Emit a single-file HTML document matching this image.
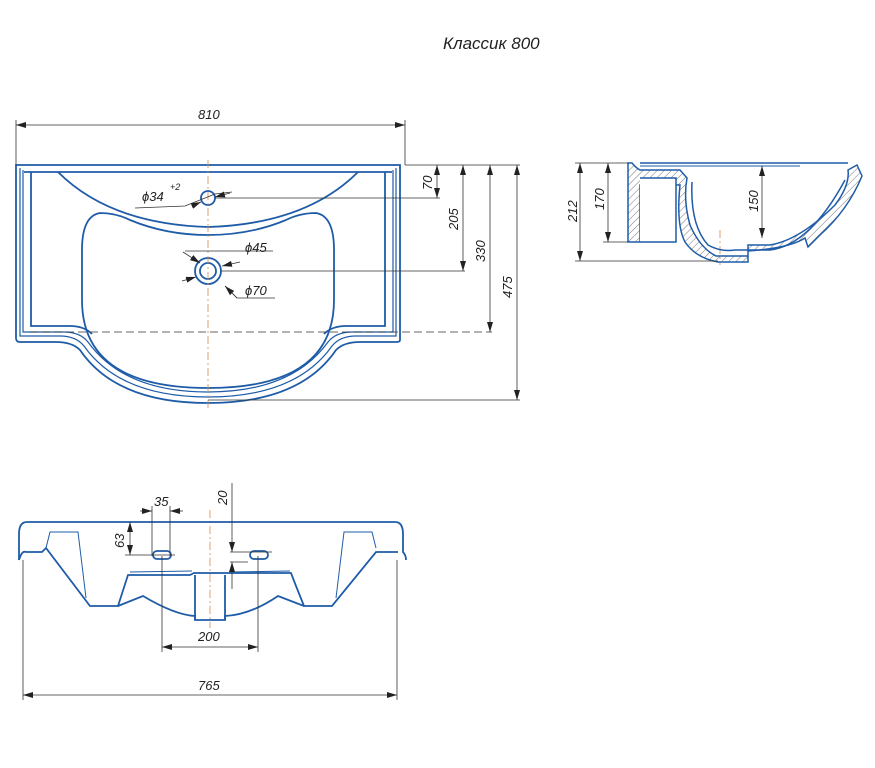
<!DOCTYPE html>
<html><head><meta charset="utf-8"><style>
html,body{margin:0;padding:0;background:#fff;}
svg{display:block}
text{font-family:"Liberation Sans",sans-serif;font-style:italic;font-size:13px;fill:#222}
</style></head><body>
<svg width="875" height="768" viewBox="0 0 875 768" xmlns="http://www.w3.org/2000/svg">
<defs>
<marker id="a" markerWidth="10" markerHeight="6" refX="10" refY="3" orient="auto-start-reverse" markerUnits="userSpaceOnUse"><path d="M0,0 L10,3 L0,6 z" fill="#222"/></marker>
<pattern id="h" width="5" height="5" patternUnits="userSpaceOnUse" patternTransform="rotate(45)"><line x1="0" y1="0" x2="0" y2="5" stroke="#777" stroke-width="1"/></pattern>
</defs>
<text x="443" y="49" style="font-size:17px">Классик 800</text>

<!-- TOP VIEW -->
<g fill="none" stroke="#1f5ca8" stroke-width="1.8">
<path d="M16,165 H400 V340 Q400,342 396,342 H360 Q344,342 336,350 Q300,403 208,403 Q116,403 80,350 Q72,342 56,342 H20 Q16,342 16,338 Z"/>
<path d="M20,168 V336 H60 Q76,336 84,346 Q120,397 208,397 Q296,397 332,346 Q340,336 356,336 H396 V168" stroke-width="1.2"/>
<path d="M23,170 V332 H64 Q80,332 88,342 Q124,392 208,392 Q292,392 328,342 Q336,332 352,332 H393 V170" stroke-width="1.2"/>
<path d="M24,172 H392"/>
<path d="M31,172 V326 H70 Q84,326 92,334"/>
<path d="M385,172 V326 H346 Q332,326 324,334"/>
<path d="M58,172 Q110,224 208,227 Q306,224 358,172"/>
<path d="M100,213 Q82,216 82,250 V300 Q82,388 208,388 Q334,388 334,300 V250 Q334,216 316,213 Q300,213 286,220 Q250,235 208,235 Q166,235 130,220 Q116,213 100,213 Z"/>
<circle cx="208" cy="198" r="7"/>
<circle cx="208" cy="271" r="8"/>
<circle cx="208" cy="271" r="13"/>
</g>
<g stroke="#d08a50" stroke-width="0.8" stroke-dasharray="8,3,2,3" fill="none">
<line x1="208" y1="160" x2="208" y2="408"/>
<line x1="720" y1="230" x2="720" y2="265"/>
<line x1="210" y1="510" x2="210" y2="628"/>
</g>
<g stroke="#333" stroke-width="0.8" fill="none">
<line x1="16" y1="120" x2="16" y2="165"/><line x1="405" y1="120" x2="405" y2="165"/>
<line x1="16" y1="125" x2="405" y2="125" marker-start="url(#a)" marker-end="url(#a)"/>
<line x1="405" y1="165" x2="520" y2="165"/>
<line x1="215" y1="198" x2="440" y2="198"/>
<line x1="221" y1="271" x2="465" y2="271"/>
<line x1="208" y1="400" x2="520" y2="400"/>
<line x1="30" y1="332" x2="492" y2="332" stroke-dasharray="8,4"/>
<line x1="437" y1="165" x2="437" y2="198" marker-start="url(#a)" marker-end="url(#a)"/>
<line x1="463" y1="165" x2="463" y2="271" marker-start="url(#a)" marker-end="url(#a)"/>
<line x1="490" y1="165" x2="490" y2="332" marker-start="url(#a)" marker-end="url(#a)"/>
<line x1="517" y1="165" x2="517" y2="400" marker-start="url(#a)" marker-end="url(#a)"/>
<polyline points="135,208 185,206 215,194 232,192"/>
<line x1="192" y1="206" x2="201" y2="202" marker-end="url(#a)"/>
<line x1="230" y1="193" x2="215" y2="197" marker-end="url(#a)"/>
<line x1="185" y1="251" x2="273" y2="251"/>
<line x1="183" y1="252" x2="200" y2="263" marker-end="url(#a)"/>
<line x1="182" y1="281" x2="196" y2="277" marker-end="url(#a)"/>
<line x1="240" y1="262" x2="222" y2="266" marker-end="url(#a)"/>
<polyline points="275,298 237,298 225,286"/>
<line x1="237" y1="298" x2="225" y2="286" marker-end="url(#a)"/>
</g>
<text x="142" y="201">ϕ34</text><text x="170" y="190" style="font-size:9px">+2</text>
<text x="245" y="252">ϕ45</text>
<text x="245" y="295">ϕ70</text>
<text x="198" y="119">810</text>
<text transform="translate(432,190) rotate(-90)">70</text>
<text transform="translate(458,230) rotate(-90)">205</text>
<text transform="translate(485,262) rotate(-90)">330</text>
<text transform="translate(512,298) rotate(-90)">475</text>

<!-- SIDE VIEW -->
<g stroke="#1f5ca8" stroke-width="1.5">
<path d="M628,163 H632 Q636,168 640,170 H680 L687,178 Q683,200 690,225 Q700,248 716,256 H748 V245 H770 Q800,240 835,205 Q850,185 848,170 L857,165 L862,176 Q848,210 820,235 L808,247 L805,238 Q790,248 748,251 V262 H718 Q696,258 685,242 Q676,225 680,185 H640 V242 H628 Z" fill="url(#h)"/>
<path d="M640,178 H676 V242 H640" fill="#fff"/>
<path d="M692,182 Q690,225 708,245 Q720,252 735,250 H770 Q810,245 845,180" fill="none"/>
<line x1="640" y1="163" x2="848" y2="163" fill="none"/>
<line x1="640" y1="166" x2="800" y2="166" fill="none" stroke-width="1"/>
</g>
<g stroke="#333" stroke-width="0.8" fill="none">
<line x1="575" y1="163" x2="628" y2="163"/>
<line x1="603" y1="242" x2="628" y2="242"/>
<line x1="575" y1="261" x2="718" y2="261"/>
<line x1="580" y1="163" x2="580" y2="261" marker-start="url(#a)" marker-end="url(#a)"/>
<line x1="608" y1="163" x2="608" y2="242" marker-start="url(#a)" marker-end="url(#a)"/>
<line x1="762" y1="166" x2="762" y2="238" marker-start="url(#a)" marker-end="url(#a)"/>
</g>
<text transform="translate(577,222) rotate(-90)">212</text>
<text transform="translate(604,210) rotate(-90)">170</text>
<text transform="translate(758,212) rotate(-90)">150</text>

<!-- FRONT VIEW -->
<g fill="none" stroke="#1f5ca8" stroke-width="1.8">
<path d="M19,560 V534 Q19,522 27,522 H395 Q403,522 403,534 V552 Q406,555 406,560"/>
<path d="M19,560 Q22,550 26,552 H42 L46,548 L90,606 H118 L128,575 L190,575 L194,573 H291 L296,586 L304,606 H332 L376,552 H398"/>
<path d="M118,606 L143,596 Q175,615 195,616 V620 H225 V616 Q250,615 278,596 L304,606"/>
<path d="M195,575 V620 M225,575 V620"/>
<rect x="153" y="551" width="18" height="8" rx="4"/>
<rect x="250" y="551" width="18" height="8" rx="4"/>
</g>
<g fill="none" stroke="#1f5ca8" stroke-width="1">
<path d="M46,548 L50,532 H78 L86,598"/>
<path d="M376,548 L372,532 H344 L336,598"/>
<path d="M130,572 L192,571"/><path d="M230,572 L290,571"/>
</g>
<g stroke="#333" stroke-width="0.8" fill="none">
<line x1="23" y1="560" x2="23" y2="700"/><line x1="397" y1="560" x2="397" y2="700"/>
<line x1="23" y1="695" x2="397" y2="695" marker-start="url(#a)" marker-end="url(#a)"/>
<line x1="162" y1="556" x2="162" y2="652"/><line x1="258" y1="556" x2="258" y2="652"/>
<line x1="162" y1="647" x2="258" y2="647" marker-start="url(#a)" marker-end="url(#a)"/>
<line x1="152" y1="506" x2="152" y2="556"/><line x1="170" y1="506" x2="170" y2="556"/>
<line x1="140" y1="511" x2="152" y2="511" marker-end="url(#a)"/>
<line x1="183" y1="511" x2="170" y2="511" marker-end="url(#a)"/>
<line x1="125" y1="555" x2="175" y2="555"/>
<line x1="130" y1="522" x2="130" y2="555" marker-start="url(#a)" marker-end="url(#a)"/>
<line x1="232" y1="483" x2="232" y2="552" marker-end="url(#a)"/>
<line x1="232" y1="589" x2="232" y2="562" marker-end="url(#a)"/>
<line x1="230" y1="552" x2="272" y2="552"/><line x1="230" y1="562" x2="248" y2="562"/>
</g>
<text x="154" y="506">35</text>
<text transform="translate(124,548) rotate(-90)">63</text>
<text transform="translate(227,505) rotate(-90)">20</text>
<text x="198" y="641">200</text>
<text x="198" y="690">765</text>
</svg>
</body></html>
